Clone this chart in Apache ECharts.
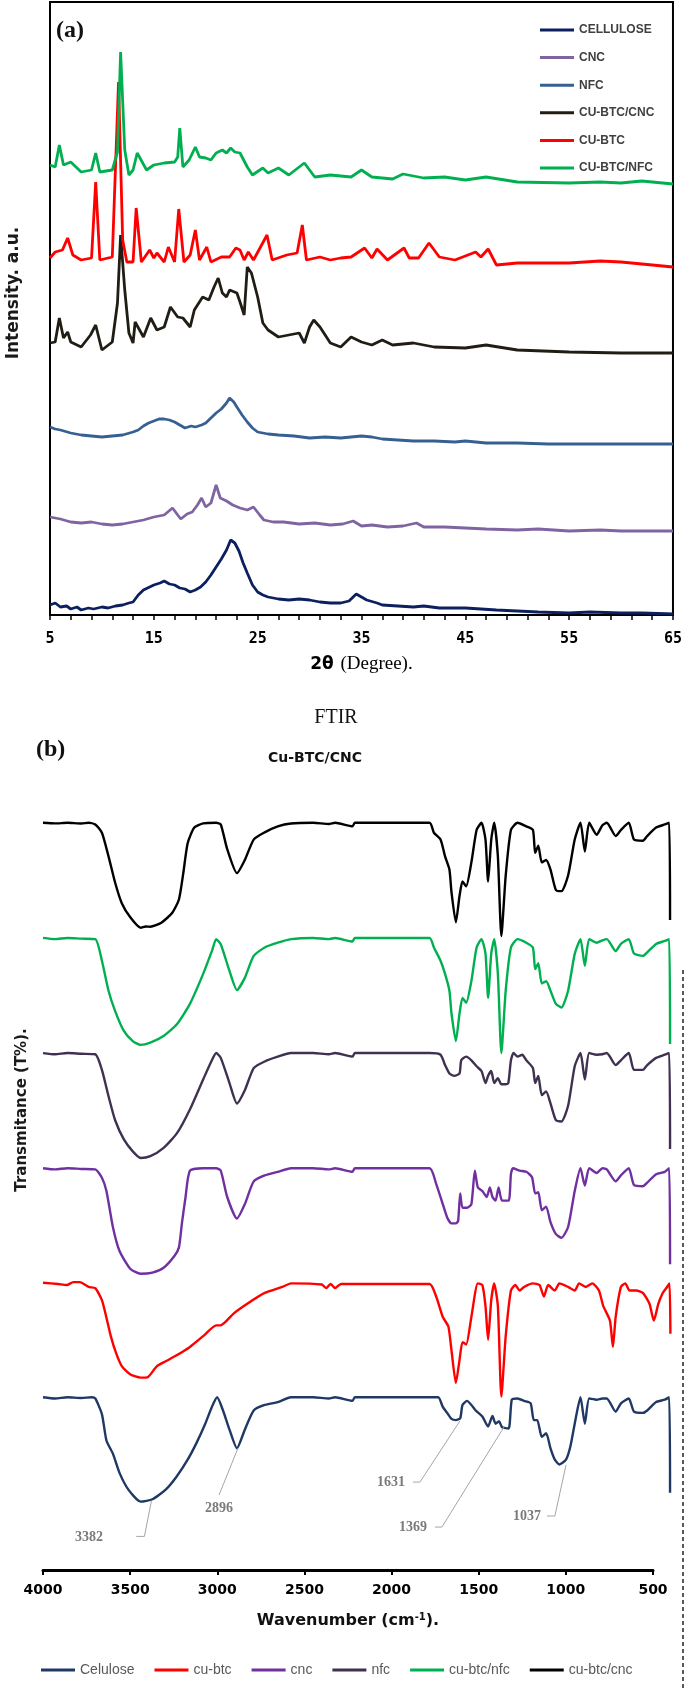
<!DOCTYPE html>
<html><head><meta charset="utf-8">
<script src="https://cdn.jsdelivr.net/npm/echarts@6/dist/echarts.min.js"></script>
<style>html,body{margin:0;padding:0;background:#fff}#chart{width:685px;height:1690px}</style>
</head><body><div id="chart"></div>
<script>
// ---------------- XRD (panel a) ----------------
const xrdNames = ['CELLULOSE', 'CNC', 'NFC', 'CU-BTC/CNC', 'CU-BTC', 'CU-BTC/NFC'];
// [2theta (deg), intensity (a.u., stacked as plotted)]
const xrdCellulose = [[5,10],[5.5,12],[6,8],[6.6,9],[7,6],[7.6,8],[8,5],[8.7,7],[9.2,6],[10,8],[10.6,7],[11.3,9],[12,10],[12.6,12],[13,13],[13.5,20],[14,25],[14.6,28],[15,30],[15.6,32],[16,34],[16.5,31],[17,30],[17.5,27],[18,26],[18.5,23],[19,25],[19.5,28],[20,33],[20.5,40],[21,48],[21.5,56],[22,65],[22.4,75],[22.8,72],[23.2,64],[23.6,52],[24,42],[24.5,30],[25,23],[25.5,20],[26,18],[27,16],[28,15],[29,16],[30,15],[31,13],[32,12],[33,12],[33.8,14],[34.5,21],[35,18],[35.5,15],[36.5,12],[37,10],[38.5,9],[40,8],[41,9],[42.5,7],[45,7],[46.5,6],[48,5],[50,4],[52,3],[55,2],[57,3],[60,2],[62,2],[65,1]];
const xrdCNC = [[5,98],[6,96],[7,93],[8,92],[9,93],[10,91],[11,90],[12,91],[13,93],[14,95],[15,98],[16,100],[16.8,107],[17.3,100],[17.6,96],[18.2,101],[18.7,103],[19.2,110],[19.6,117],[20,108],[20.5,112],[21,130],[21.4,117],[22,114],[22.6,110],[23.3,107],[24,105],[24.6,108],[25.2,100],[25.6,95],[26.5,93],[27.5,93],[29,91],[30.5,92],[32,90],[33.2,91],[34.2,94],[35,89],[36,90],[37.5,88],[39,89],[40.3,92],[41,88],[43,88],[45,87],[47,86],[50,85],[52,86],[55,84],[58,85],[60,84],[65,84]];
const xrdNFC = [[5,188],[5.5,186],[6,185],[7,182],[8,180],[9,179],[10,178],[11,179],[12,180],[13,183],[13.5,185],[14,189],[14.5,192],[15,194],[15.5,196],[16,196],[16.5,195],[17,193],[17.5,190],[18,187],[18.6,189],[19,188],[19.6,190],[20,192],[20.6,198],[21,202],[21.5,206],[22,212],[22.3,217],[22.7,213],[23,208],[23.5,200],[24,193],[24.5,187],[25,183],[26,181],[27,180],[28.5,179],[30,177],[31.5,178],[33,177],[34,178],[35,179],[36,178],[37,176],[38.5,175],[40,174],[42,174],[44,173],[45,174],[47,172],[50,172],[53,171],[55,171],[58,171],[60,171],[65,171]];
const xrdCuBtcCnc = [[5,272],[5.5,273],[5.9,297],[6.3,277],[6.7,283],[7,273],[8,268],[8.9,280],[9.4,290],[10,265],[11,273],[11.5,312],[11.8,380],[12.2,325],[12.6,282],[13,272],[13.2,293],[14,278],[14.7,297],[15.3,285],[16,288],[16.6,308],[17.3,298],[17.8,297],[18.5,288],[18.9,305],[19.7,318],[20.3,315],[20.8,328],[21.2,337],[21.6,322],[22,318],[22.3,325],[23,322],[23.3,313],[23.7,300],[24,348],[24.4,342],[25,318],[25.5,292],[26,285],[27,278],[28,280],[29,282],[29.5,272],[30,288],[30.4,295],[31,288],[32,272],[33,268],[34,278],[35,273],[36,270],[37,275],[38,270],[40,272],[42,268],[45,267],[47,270],[50,265],[55,263],[60,262],[65,262]];
const xrdCuBtc = [[5,357],[5.5,363],[6.2,365],[6.7,377],[7.2,360],[8,355],[9,357],[9.4,433],[9.8,355],[11,358],[11.6,533],[12,375],[12.4,353],[13,353],[13.3,407],[13.8,353],[14.6,365],[15,357],[15.3,362],[16,353],[16.4,368],[17,353],[17.4,406],[17.9,353],[18.5,360],[19,385],[19.4,355],[20.1,368],[20.5,353],[21.5,358],[22.3,358],[22.9,367],[23.3,365],[23.7,355],[24.1,363],[24.6,355],[25.9,380],[26.4,355],[27.8,360],[28.8,362],[29.3,390],[29.7,355],[31,358],[32,355],[33,357],[34,358],[35.3,367],[36,357],[36.5,366],[37.5,355],[39.1,367],[39.6,357],[40.5,357],[41.5,372],[42.5,358],[44,355],[46,363],[46.5,358],[47.2,366],[48,350],[50,352],[55,352],[58,354],[60,353],[63,350],[65,348]];
const xrdCuBtcNfc = [[5,450],[5.5,448],[5.9,470],[6.3,450],[7,453],[8,443],[9,445],[9.4,462],[9.8,443],[11,445],[11.5,463],[11.8,563],[12.2,465],[12.6,440],[13,445],[13.4,462],[14.3,445],[15,450],[16,452],[17,453],[17.3,458],[17.5,487],[17.8,448],[18.4,455],[19,468],[19.4,458],[20,457],[20.5,455],[21,462],[21.6,465],[22,462],[22.4,467],[22.8,463],[23.3,462],[24,448],[24.5,440],[25.5,447],[26,442],[27,447],[28,440],[29.5,452],[30.5,438],[32,440],[34,438],[35,445],[36,438],[38,436],[39,441],[41,437],[43,438],[45,435],[47,438],[50,433],[55,432],[58,433],[60,432],[62,434],[65,431]];
const xrdData = [xrdCellulose, xrdCNC, xrdNFC, xrdCuBtcCnc, xrdCuBtc, xrdCuBtcNfc];
const xrdColors = ['#0c1f5e', '#8064a2', '#376092', '#211d14', '#ff0000', '#00b050'];

// ---------------- FTIR (panel b) ----------------
const ftirNames = ['Celulose', 'cu-btc', 'cnc', 'nfc', 'cu-btc/nfc', 'cu-btc/cnc'];
const ftirOffsets = [44, 139, 235, 331, 427, 523];
// [wavenumber (cm-1), transmittance (%)]
const ftirCelulose = [[4000,100],[3930,99],[3860,100],[3780,99.4],[3720,100],[3700,99],[3662,86],[3636,64],[3599,53],[3561,37],[3510,23],[3440,13],[3372,15],[3296,23],[3233,34],[3170,48],[3119,62],[3069,78],[3031,92],[3001,100],[2968,89.4],[2930,73],[2887,57.5],[2842,73],[2791,89],[2728,93.6],[2653,96],[2577,100],[2450,100],[2360,99],[2324,100],[2224,97],[2211,100],[1782,100],[1732,100],[1706,92],[1681,87],[1656,82],[1631,81],[1606,82.5],[1593,93.6],[1567,97],[1542,93.6],[1517,89],[1479,84],[1446,75.6],[1421,84.4],[1403,78],[1383,80],[1366,75],[1328,74],[1310,98],[1277,99],[1240,97],[1202,95],[1184,81],[1164,81],[1138,67],[1113,70],[1088,57.5],[1063,48],[1037,44],[999,48],[974,59],[949,78],[916,100],[891,78],[866,99],[823,98],[790,99],[765,99],[714,88],[684,95],[639,99],[609,88],[558,87],[533,89],[482,96],[432,98],[407,100],[402,20.5]];
const ftirCuBtc = [[4000,100.5],[3914,99.4],[3864,98.6],[3826,101],[3788,101],[3738,97],[3700,96],[3662,86],[3637,72],[3611,56],[3581,42],[3548,31],[3498,24],[3440,21.4],[3397,22],[3346,31],[3296,35],[3233,40],[3157,47],[3081,56],[3006,65],[2981,65],[2905,75],[2828,83],[2728,92],[2627,97],[2577,100],[2400,99],[2375,96],[2350,99.5],[2324,96],[2290,99.5],[1782,99.5],[1744,89],[1706,72],[1674,64],[1656,44],[1631,17],[1610,36],[1593,51],[1572,49],[1542,72],[1505,100],[1479,98.6],[1461,81],[1446,53],[1428,86],[1411,100],[1390,81],[1370,5.6],[1345,56],[1315,94],[1290,98.6],[1265,94],[1240,97],[1189,100],[1151,98.6],[1126,89],[1101,98.6],[1063,94],[1037,100],[987,97],[949,94],[924,100],[886,97],[848,100],[810,94],[785,81],[747,69],[730,47],[714,72],[684,97],[659,100],[634,94],[596,94],[558,92],[520,83],[495,69],[469,83],[444,92],[419,97],[405,100],[400,58]];
const ftirCnc = [[4000,100],[3930,99],[3860,100],[3780,99.4],[3700,99],[3662,92],[3636,81],[3599,51],[3561,31],[3498,16],[3440,12],[3372,13],[3308,17],[3245,27],[3220,34],[3203,54],[3182,76],[3157,98],[3081,100],[3006,100],[2980,98],[2943,76],[2887,58],[2842,70],[2791,89],[2728,94],[2653,97],[2577,100],[2450,100],[2360,99],[2324,100],[2224,97],[2211,100],[1782,100],[1744,87],[1706,70],[1681,59],[1656,54],[1631,54],[1618,56],[1606,79],[1593,67],[1567,67],[1542,70],[1522,98],[1505,84],[1479,81],[1454,76],[1436,84],[1421,76],[1403,73],[1386,84],[1366,73],[1328,73],[1315,95],[1303,100],[1265,98],[1227,97],[1194,92.5],[1176,79],[1158,80],[1138,65],[1113,68],[1088,55],[1057,45],[1025,42],[987,51],[949,81],[916,100],[891,85.5],[866,100],[823,96],[790,100],[765,99],[714,89],[684,94],[639,100],[609,86],[558,85],[533,88],[482,95],[432,97],[407,100],[402,20]];
const ftirNfc = [[4000,100],[3930,99],[3860,100],[3780,99.4],[3700,99],[3662,86],[3624,64],[3586,44],[3536,28],[3485,18],[3440,12.5],[3384,14],[3308,21],[3232,33],[3157,53],[3081,78],[3031,94],[3006,100],[2980,96],[2930,75],[2887,58],[2842,69],[2791,87.5],[2728,93],[2653,97],[2577,100],[2450,100],[2360,99],[2324,100],[2224,97],[2211,100],[1782,100],[1719,98.6],[1693,90],[1668,83],[1640,81],[1610,83],[1600,94],[1572,97],[1542,94],[1512,89],[1484,85],[1461,75],[1446,81],[1428,85],[1411,75],[1390,79],[1370,74],[1345,74],[1330,75],[1315,94],[1300,100],[1277,97],[1250,98.6],[1227,94],[1189,87.5],[1176,75],[1158,81],[1138,65],[1113,68],[1088,58],[1057,44],[1025,43],[987,56],[949,89],[916,100],[891,78],[866,100],[823,98.6],[790,99],[765,100],[714,90],[684,94],[639,100],[609,86],[558,86],[533,90],[482,96],[432,98.6],[407,100],[402,20]];
const ftirCuBtcNfc = [[4000,100],[3930,99],[3860,100],[3780,99.4],[3700,99],[3662,81],[3624,56],[3586,39],[3536,22.5],[3485,14],[3440,10.8],[3384,12.8],[3308,18.3],[3232,28],[3157,45],[3081,70],[3031,89],[3006,99],[2980,94.7],[2930,72.5],[2887,56.5],[2842,66.7],[2791,85],[2728,92],[2653,96],[2577,99],[2450,100],[2360,99],[2324,100],[2224,97],[2211,100],[1782,100],[1757,92],[1719,81],[1693,70],[1668,56],[1656,37],[1631,14],[1610,37],[1593,50],[1572,46],[1542,64],[1512,92],[1484,99],[1461,87],[1446,50],[1428,87],[1411,99],[1390,70],[1370,4],[1345,56],[1315,92],[1277,99],[1227,96],[1189,92],[1176,74],[1158,79],[1138,62],[1113,64],[1088,56],[1057,45],[1025,42],[987,56],[949,86.7],[916,99],[891,76.7],[866,99],[823,96],[790,98],[765,99],[714,89],[684,95],[639,99],[609,87],[558,85],[533,88],[482,95],[432,97.5],[407,99],[402,11.5]];
const ftirCuBtcCnc = [[4000,100],[3930,99.5],[3860,100],[3780,99.4],[3738,100],[3700,98.6],[3662,91.7],[3624,72],[3586,50],[3548,33],[3498,21],[3440,12.5],[3410,13.5],[3384,13.3],[3321,16.7],[3258,25],[3220,36],[3195,58],[3170,83],[3132,96],[3081,99.5],[3006,100],[2980,98.6],[2943,78],[2887,58],[2842,69],[2791,86],[2728,92],[2653,97],[2577,99.4],[2450,100],[2360,99],[2324,100],[2224,97],[2211,100],[1782,100],[1757,91.7],[1719,86],[1693,72],[1668,61],[1656,42],[1631,17],[1610,39],[1593,51],[1572,47],[1542,67],[1512,94],[1484,100],[1461,86],[1446,51],[1428,86],[1411,100],[1390,72],[1370,5.6],[1345,56],[1315,94],[1277,100],[1227,97],[1189,94],[1176,75],[1158,81],[1138,67],[1113,69],[1088,61],[1057,44],[1025,43],[987,56],[949,86],[916,100],[891,76],[866,100],[823,90],[790,98],[765,100],[714,89],[684,94],[639,100],[609,86],[558,85],[533,89],[482,96],[432,98.6],[407,100],[402,19]];
const ftirData = [ftirCelulose, ftirCuBtc, ftirCnc, ftirNfc, ftirCuBtcNfc, ftirCuBtcCnc];
const ftirColors = ['#1f3864', '#ff0000', '#7030a0', '#3f3151', '#00b050', '#000000'];

// peak annotations on the Celulose spectrum (data coordinates, stacked units)
const annoLabels = ['3382', '2896', '1631', '1369', '1037'];
const annoText = [[3736, 27.5], [2990, 51.7], [2003, 73.3], [1877, 35.8], [1223, 45]];
const annoLeaders = [
  [[3465, 28], [3418, 28], [3378, 57.5]],
  [[2990, 62.5], [2881, 101.7]],
  [[1877, 73.3], [1837, 73.3], [1608, 124.2]],
  [[1751, 35.8], [1711, 35.8], [1355, 119.2]],
  [[1108, 45], [1063, 45], [999, 87.5]]
];

const chart = echarts.init(document.getElementById('chart'), null, {renderer: 'canvas'});

const series = [];
xrdData.forEach((d, i) => {
  series.push({
    name: xrdNames[i], type: 'line', xAxisIndex: 0, yAxisIndex: 0,
    data: d, showSymbol: false, symbol: 'none', animation: false,
    lineStyle: {color: xrdColors[i], width: 2.8}, itemStyle: {color: xrdColors[i]}
  });
});
ftirData.forEach((d, i) => {
  series.push({
    name: ftirNames[i], type: 'line', xAxisIndex: 2, yAxisIndex: 2,
    data: d.map(p => [p[0], p[1] + ftirOffsets[i]]), showSymbol: false, symbol: 'none',
    smooth: 0.2, clip: false, animation: false,
    lineStyle: {color: ftirColors[i], width: 2.4}, itemStyle: {color: ftirColors[i]}
  });
});
annoLeaders.forEach((pts, i) => {
  series.push({
    name: 'leader' + i, type: 'line', xAxisIndex: 2, yAxisIndex: 2, data: pts,
    symbol: 'none', silent: true, animation: false, clip: false,
    lineStyle: {color: '#a6a6a6', width: 1}
  });
});
series.push({
  name: 'peaks', type: 'scatter', xAxisIndex: 2, yAxisIndex: 2, symbolSize: 0, silent: true,
  animation: false, clip: false,
  data: annoText.map((p, i) => ({name: annoLabels[i], value: p})),
  label: {show: true, position: 'inside', formatter: '{b}', color: '#595959',
    fontFamily: 'Liberation Serif', fontWeight: 'bold', fontSize: 14}
});

const option = {
  backgroundColor: '#fff',
  animation: false,
  grid: [
    {left: 50, top: 2, width: 627, height: 613, show: true, borderColor: '#000', borderWidth: 2, backgroundColor: 'transparent'},
    {left: 43, top: 800, width: 610, height: 770},
    {left: 43, top: 800, width: 627.4, height: 770}
  ],
  xAxis: [
    {
      gridIndex: 0, type: 'value', min: 5, max: 65, interval: 10,
      axisLine: {show: true, lineStyle: {color: '#000', width: 2}},
      axisTick: {show: true, inside: false, length: 5, lineStyle: {color: '#000', width: 1.5}},
      minorTick: {show: true, splitNumber: 5, length: 5, lineStyle: {color: '#000', width: 1.5}},
      splitLine: {show: false},
      axisLabel: {margin: 17, color: '#000', fontFamily: 'DejaVu Sans Mono', fontWeight: 'bold', fontSize: 15},
      name: '{b|2θ}  {r|(Degree).}', nameLocation: 'middle', nameGap: 40,
      nameTextStyle: {rich: {
        b: {fontFamily: 'DejaVu Sans', fontWeight: 'bold', fontSize: 17, color: '#000'},
        r: {fontFamily: 'Liberation Serif', fontSize: 19, color: '#000'}
      }}
    },
    {
      gridIndex: 1, type: 'value', inverse: true, min: 500, max: 4000, interval: 500,
      axisLine: {show: true, onZero: false, lineStyle: {color: '#000', width: 3}},
      axisTick: {show: true, inside: false, length: 5, lineStyle: {color: '#000', width: 2}},
      splitLine: {show: false},
      axisLabel: {margin: 13, color: '#000', fontFamily: 'DejaVu Sans', fontWeight: 'bold', fontSize: 14,
        formatter: v => String(v)},
      name: '{t|Wavenumber (cm}{s|-1}{t|).}', nameLocation: 'middle', nameGap: 42,
      nameTextStyle: {rich: {
        t: {fontFamily: 'DejaVu Sans', fontWeight: 'bold', fontSize: 16, color: '#111'},
        s: {fontFamily: 'DejaVu Sans', fontWeight: 'bold', fontSize: 10, color: '#111', verticalAlign: 'top', padding: [0, 0, 8, 0]}
      }}
    },
    {gridIndex: 2, type: 'value', inverse: true, min: 400, max: 4000, show: false}
  ],
  yAxis: [
    {gridIndex: 0, type: 'value', min: 0, max: 613, show: false},
    {gridIndex: 1, type: 'value', min: 0, max: 642, show: false},
    {gridIndex: 2, type: 'value', min: 0, max: 642, show: false}
  ],
  legend: [
    {
      data: xrdNames, orient: 'vertical', left: 535, top: 18, icon: 'rect',
      itemWidth: 34, itemHeight: 3, itemGap: 13.6, selectedMode: false,
      textStyle: {fontFamily: 'Liberation Sans', fontWeight: 'bold', fontSize: 12, color: '#404040', lineHeight: 14}
    },
    {
      data: ftirNames, orient: 'horizontal', left: 36, top: 1657, icon: 'rect',
      itemWidth: 34, itemHeight: 3, itemGap: 20, selectedMode: false,
      textStyle: {fontFamily: 'Liberation Sans', fontSize: 14, color: '#595959', lineHeight: 16}
    }
  ],
  graphic: [
    {type: 'text', left: 56, top: 19, style: {text: '(a)', font: 'bold 24px "Liberation Serif"', fill: '#111'}},
    {type: 'text', x: 14, y: 293, rotation: Math.PI / 2,
      style: {text: 'Intensity. a.u.', font: 'bold 17px "DejaVu Sans"', fill: '#1a1a1a', textAlign: 'center', textVerticalAlign: 'middle'}},
    {type: 'text', x: 336, y: 718, style: {text: 'FTIR', font: '20px "Liberation Serif"', fill: '#111', textAlign: 'center', textVerticalAlign: 'middle'}},
    {type: 'text', left: 36, top: 738, style: {text: '(b)', font: 'bold 24px "Liberation Serif"', fill: '#111'}},
    {type: 'text', x: 315, y: 758, style: {text: 'Cu-BTC/CNC', font: 'bold 14px "DejaVu Sans"', fill: '#111', textAlign: 'center', textVerticalAlign: 'middle'}},
    {type: 'text', x: 22, y: 1110, rotation: Math.PI / 2,
      style: {text: 'Transmitance (T%).', font: 'bold 15px "DejaVu Sans"', fill: '#1a1a1a', textAlign: 'center', textVerticalAlign: 'middle'}},
    {type: 'line', shape: {x1: 683, y1: 970, x2: 683, y2: 1690}, style: {stroke: '#222', lineWidth: 1.5, lineDash: [4, 3]}}
  ],
  series: series
};
chart.setOption(option);
</script>
</body></html>
